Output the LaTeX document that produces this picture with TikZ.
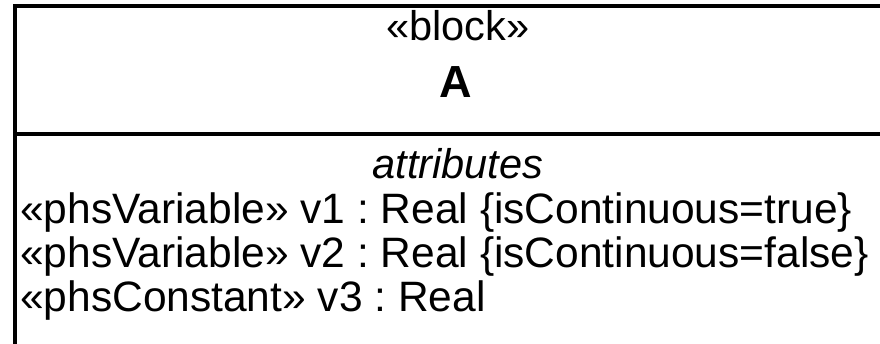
\documentclass[tikz,border=0pt]{standalone}
\usepackage{fontspec}
\setmainfont{Liberation Sans}
\frenchspacing
\usepackage{tikz}
\usetikzlibrary{positioning}
\tikzset{
    frame_line/.style={
        draw=black,           % border colour
        line width=4pt        % heavy outline of the block
    },
    head_text/.style={
        anchor=base,          % centred on the baseline
        inner sep=0pt,
        font=\fontsize{41.5}{44}\selectfont
    },
    attr_text/.style={
        anchor=base west,     % attribute rows start at the left
        inner sep=0pt,
        font=\fontsize{42.5}{44}\selectfont
    }
}

\begin{document}
\begin{tikzpicture}[x=1pt, y=-1pt]
    \useasboundingbox (0,0) rectangle (880,343);

    % 1. outline of the block: top, left side and compartment divider
    \begin{scope}
        \clip (0,0) rectangle (880,343);
        \draw[frame_line] (14.5,360) -- (14.5,6) -- (900,6);
        \draw[frame_line] (14.5,134) -- (900,134);
    \end{scope}

    % 2. name compartment
    \node[head_text] (stereo) at (458,40) {«block»};
    \node[head_text, font=\fontsize{45}{48}\selectfont\bfseries] (blockname) at (456,97) {A};

    % 3. attributes compartment
    \node[head_text, font=\fontsize{41.5}{44}\selectfont\itshape] (attrhead) at (458,178) {attributes};
    \node[attr_text] (attrA) at (20,223) {«phsVariable» v1 : Real \{isContinuous=true\}};
    \node[attr_text] (attrB) at (20,267) {«phsVariable» v2 : Real \{isContinuous=false\}};
    \node[attr_text] (attrC) at (20,311) {«phsConstant» v3 : Real};
\end{tikzpicture}
\end{document}
